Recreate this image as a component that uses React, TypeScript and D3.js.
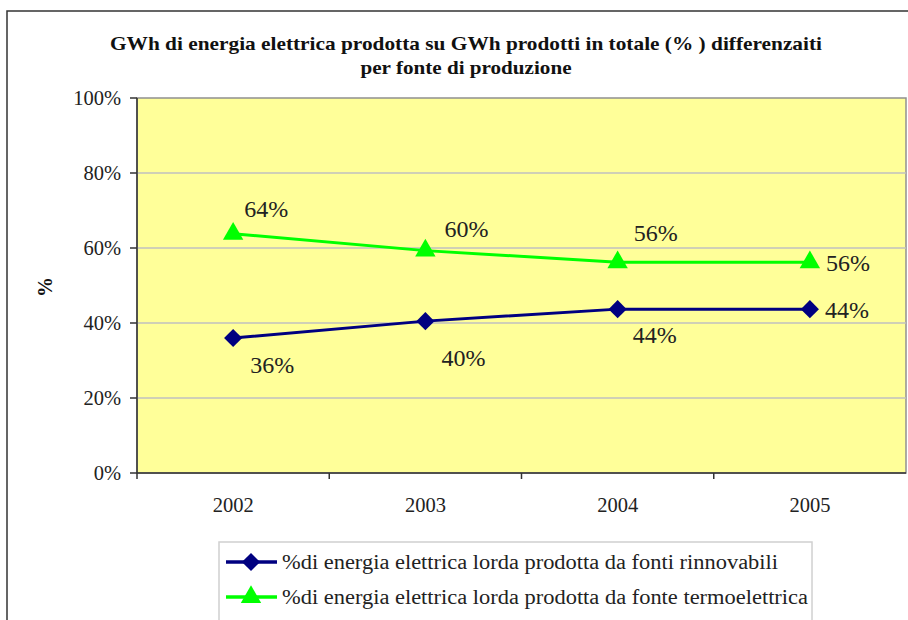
import * as d3 from "d3";

const years = ["2002", "2003", "2004", "2005"];
const rinnovabili = [36, 40.5, 43.7, 43.7];
const termo = [63.8, 59.3, 56.2, 56.2];
const rinnovabiliLabels = ["36%", "40%", "44%", "44%"];
const termoLabels = ["64%", "60%", "56%", "56%"];
const yTicks = [0, 20, 40, 60, 80, 100];
const seriesNames = [
  "%di energia elettrica lorda prodotta da fonti rinnovabili",
  "%di energia elettrica lorda prodotta da fonte termoelettrica",
];
const titleLines = [
  "GWh di energia elettrica prodotta su GWh prodotti in totale (% ) differenzaiti",
  "per fonte di produzione",
];
const titleWidths = [712, 211];
const legendWidths = [496, 526];

// label offsets from the marker (dx, dy), excel-like placement
const blueOffsets = [[39, 35], [38, 45], [37, 34], [37, 9]];
const greenOffsets = [[33, -17], [41, -14], [38, -21], [38, 9]];

const FONT = "Liberation Serif";

const width = 908;
const height = 620;
const margin = { left: 137, top: 98, right: 2, bottom: 147 };
const plotW = width - margin.left - margin.right;
const plotH = height - margin.top - margin.bottom;

const xScale = d3.scaleBand().domain(years).range([0, plotW]);
const yScale = d3.scaleLinear().domain([0, 100]).range([plotH, 0]);
const cx = (i) => xScale(years[i]) + xScale.bandwidth() / 2;

const line = d3
  .line<number>()
  .x((d, i) => cx(i))
  .y((d) => yScale(d));

const diamond = d3.symbol().type(d3.symbolDiamond2).size(210)();
const triangle = d3.symbol().type(d3.symbolTriangle).size(180)();

const series = [
  { values: rinnovabili, labels: rinnovabiliLabels, color: "#000080", sym: diamond, offs: blueOffsets },
  { values: termo, labels: termoLabels, color: "#00FF00", sym: triangle, offs: greenOffsets },
];

const App = () => {
  return (
    <svg
      width={width}
      height={height}
      fontFamily={FONT}
      style={{ display: "block", position: "absolute", left: 0, top: 0 }}
    >
      {/* outer frame */}
      <rect x={7} y={11} width={920} height={640} fill="white" stroke="#333" strokeWidth={1.5} />

      {titleLines.map((t, i) => (
        <text
          key={t}
          x={466}
          y={50 + i * 24}
          textAnchor="middle"
          fontWeight="bold"
          fontSize={19}
          textLength={titleWidths[i]}
          lengthAdjust="spacingAndGlyphs"
          fill="#111"
        >
          {t}
        </text>
      ))}

      <text transform="translate(52,287) rotate(-90)" textAnchor="middle" fontWeight="bold" fontSize={20} fill="#111">
        %
      </text>

      <g transform={`translate(${margin.left},${margin.top})`}>
        <rect width={plotW} height={plotH} fill="#FFFF99" stroke="#909090" strokeWidth={1.5} />
        {yTicks
          .filter((t) => t > 0 && t < 100)
          .map((t) => (
            <line key={t} x1={0} x2={plotW} y1={yScale(t)} y2={yScale(t)} stroke="#C0C0C0" strokeWidth={1.3} />
          ))}

        {/* y axis */}
        <line x1={0} x2={0} y1={0} y2={plotH} stroke="#333" strokeWidth={1.5} />
        {yTicks.map((t) => (
          <g key={t} transform={`translate(0,${yScale(t)})`}>
            <line x1={-7} x2={0} stroke="#333" strokeWidth={1.5} />
            <text x={-16} dy="0.33em" textAnchor="end" fontSize={20.5} fill="#222">
              {`${t}%`}
            </text>
          </g>
        ))}

        {/* x axis */}
        <line x1={0} x2={plotW} y1={plotH} y2={plotH} stroke="#333" strokeWidth={1.5} />
        {years.map((y, i) => (
          <g key={y}>
            <line x1={xScale(y)} x2={xScale(y)} y1={plotH} y2={plotH + 6} stroke="#333" strokeWidth={1.5} />
            <text x={cx(i)} y={plotH + 39} textAnchor="middle" fontSize={20.5} fill="#222">
              {y}
            </text>
          </g>
        ))}

        {series.map((s) => (
          <g key={s.color}>
            <path d={line(s.values)} fill="none" stroke={s.color} strokeWidth={3} />
            {s.values.map((v, i) => (
              <path key={i} d={s.sym} fill={s.color} transform={`translate(${cx(i)},${yScale(v)})`} />
            ))}
            {s.values.map((v, i) => (
              <text
                key={"l" + i}
                x={cx(i) + s.offs[i][0]}
                y={yScale(v) + s.offs[i][1]}
                textAnchor="middle"
                fontSize={24}
                fill="#222"
              >
                {s.labels[i]}
              </text>
            ))}
          </g>
        ))}
      </g>

      {/* legend */}
      <g transform="translate(219,542)">
        <rect width={593} height={90} fill="white" stroke="#D0D0D0" strokeWidth={1.5} />
        {series.map((s, i) => {
          const y = 20 + i * 35;
          return (
            <g key={s.color}>
              <line x1={7} x2={58} y1={y} y2={y} stroke={s.color} strokeWidth={3.5} />
              <path d={s.sym} fill={s.color} transform={`translate(32,${y})`} />
              <text
                x={63}
                y={y + 7}
                fontSize={20.5}
                textLength={legendWidths[i]}
                lengthAdjust="spacingAndGlyphs"
                fill="#222"
              >
                {seriesNames[i]}
              </text>
            </g>
          );
        })}
      </g>
    </svg>
  );
};

export default App;
